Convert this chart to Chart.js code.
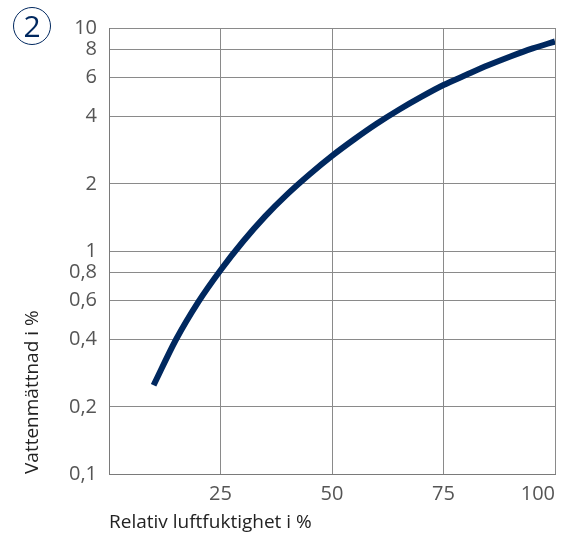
<!DOCTYPE html>
<html>
<head>
<meta charset="utf-8">
<script src="https://cdn.jsdelivr.net/npm/chart.js@4"></script>
<style>
  html, body { margin: 0; padding: 0; background: #fff; }
  #wrap { position: relative; width: 571px; height: 535px; }
  #badge {
    position: absolute; left: 13px; top: 7px; width: 36px; height: 36px;
    border: 1.5px solid #00285f; border-radius: 50%;
    color: #00285f; font: 30px "Open Sans", sans-serif;
    text-align: center; line-height: 36px;
  }
</style>
</head>
<body>
<div id="wrap">
  <canvas id="graf" width="571" height="535"></canvas>
  <div id="badge">2</div>
</div>
<script>
// Data
const fuktighet = [10, 15, 20, 25, 30, 35, 40, 45, 50, 55, 60, 65, 70, 75, 80, 85, 90, 95, 100];
const mattnad = [0.25, 0.4, 0.59, 0.82, 1.1, 1.43, 1.8, 2.21, 2.67, 3.17, 3.72, 4.3, 4.91, 5.55, 6.15, 6.8, 7.45, 8.1, 8.7];

// Ticks
const xTicks = [25, 50, 75, 100];
const yTicks = [0.1, 0.2, 0.4, 0.6, 0.8, 1, 2, 4, 6, 8, 10];

const FONT = '"Open Sans", sans-serif';
const GRID = '#8a8a8a';

// Sista x-etiketten (100) högerjusteras mot kanten, som i originalet
const sistaEtikett = {
    id: 'sistaEtikett',
    beforeDraw(chart) {
        const items = chart.scales.x.getLabelItems();
        if (items.length) items[items.length - 1].options.textAlign = 'right';
    }
};

new Chart(document.getElementById('graf'), {
    type: 'line',
    data: {
        datasets: [{
            data: fuktighet.map((x, i) => ({ x: x, y: mattnad[i] })),
            borderColor: '#00285f',
            borderWidth: 6,
            pointRadius: 0,
            cubicInterpolationMode: 'monotone',
            fill: false
        }]
    },
    options: {
        responsive: false,
        animation: false,
        layout: { padding: { left: 0, top: 28, right: 0, bottom: 0 } },
        plugins: { legend: { display: false }, tooltip: { enabled: false } },
        scales: {
            x: {
                type: 'linear',
                min: 0, max: 100,
                afterBuildTicks: s => { s.ticks = xTicks.map(v => ({ value: v })); },
                afterFit: s => { s.height = 61; s.paddingRight = 16; },
                grid: { color: GRID, lineWidth: 1, drawTicks: false },
                border: { color: '#7a7a7a', width: 1 },
                ticks: { color: '#555', font: { family: FONT, size: 20 }, padding: 8, maxRotation: 0 },
                title: {
                    display: true, align: 'start', text: 'Relativ luftfuktighet i %',
                    color: '#222', font: { family: FONT, size: 19 }, padding: { top: 0, bottom: 1 }
                }
            },
            y: {
                type: 'logarithmic',
                min: 0.1, max: 10,
                afterBuildTicks: s => { s.ticks = yTicks.map(v => ({ value: v })); },
                afterFit: s => { s.width = 109; },
                grid: { color: GRID, lineWidth: 1, drawTicks: false },
                border: { color: '#7a7a7a', width: 1 },
                ticks: {
                    color: '#555', font: { family: FONT, size: 20 }, padding: 12,
                    callback: v => String(v).replace('.', ',')
                },
                title: {
                    display: true, align: 'start', text: 'Vattenmättnad i %',
                    color: '#222', font: { family: FONT, size: 19 }, padding: { top: 21, bottom: 0 }
                }
            }
        }
    },
    plugins: [sistaEtikett]
});
</script>
</body>
</html>
